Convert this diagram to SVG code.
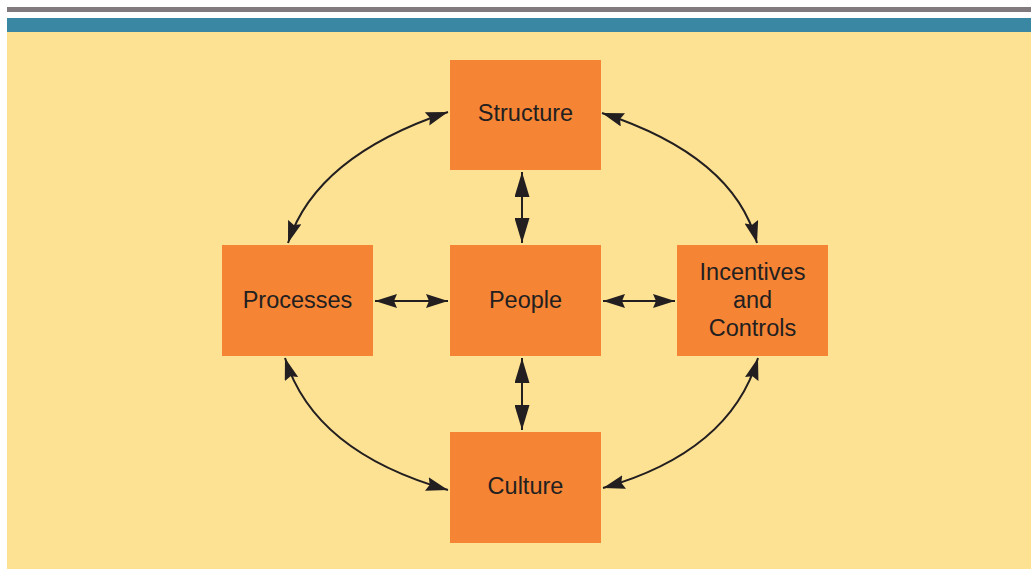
<svg xmlns="http://www.w3.org/2000/svg" width="1031" height="569" viewBox="0 0 1031 569">
<defs>
<style>
.box{fill:#F58434}
.lbl{font-family:"Liberation Sans",Arial,sans-serif;font-size:23.5px;fill:#231F20;text-anchor:middle}
.c{fill:none;stroke:#231F20;stroke-width:2}
</style>
<marker id="ah" viewBox="0 0 22 14" refX="22" refY="7" markerWidth="22" markerHeight="14" markerUnits="userSpaceOnUse" orient="auto-start-reverse">
<path d="M0,0 L22,7 L0,14 L3,7 Z" fill="#231F20"/>
</marker>
<marker id="av" viewBox="0 0 25 15" refX="25" refY="7.5" markerWidth="25" markerHeight="15" markerUnits="userSpaceOnUse" orient="auto-start-reverse">
<path d="M0,0 L25,7.5 L0,15 Z" fill="#231F20"/>
</marker>
</defs>
<rect x="0" y="0" width="1031" height="569" fill="#FFFFFF"/>
<rect x="7" y="7" width="1024" height="5" fill="#807A7E"/>
<rect x="7" y="18" width="1024" height="14" fill="#3A87A3"/>
<rect x="7" y="32" width="1024" height="537" fill="#FDE293"/>
<g id="structure"><rect class="box" x="450" y="60" width="151" height="110"/><text class="lbl" x="525.5" y="121">Structure</text></g>
<g id="people"><rect class="box" x="450" y="245" width="151" height="111"/><text class="lbl" x="525.5" y="308">People</text></g>
<g id="processes"><rect class="box" x="222" y="245" width="151" height="111"/><text class="lbl" x="297.5" y="308">Processes</text></g>
<g id="incentives"><rect class="box" x="677" y="245" width="151" height="111"/><text class="lbl" x="752.5" y="280">Incentives</text><text class="lbl" x="752.5" y="308">and</text><text class="lbl" x="752.5" y="336">Controls</text></g>
<g id="culture"><rect class="box" x="450" y="432" width="151" height="111"/><text class="lbl" x="525.5" y="494">Culture</text></g>
<g id="connectors">
<line class="c" x1="522" y1="172" x2="522" y2="243" marker-start="url(#av)" marker-end="url(#av)"/>
<line class="c" x1="522" y1="358" x2="522" y2="430" marker-start="url(#av)" marker-end="url(#av)"/>
<line class="c" x1="375" y1="301" x2="448" y2="301" marker-start="url(#ah)" marker-end="url(#ah)"/>
<line class="c" x1="603" y1="301" x2="675" y2="301" marker-start="url(#ah)" marker-end="url(#ah)"/>
<path class="c" d="M448,112 Q316,156 288,243" marker-start="url(#ah)" marker-end="url(#ah)"/>
<path class="c" d="M602,113 Q734,156 757,243" marker-start="url(#ah)" marker-end="url(#ah)"/>
<path class="c" d="M285,358 Q314,452 448,490" marker-start="url(#ah)" marker-end="url(#ah)"/>
<path class="c" d="M758,358 Q730,452 603,488" marker-start="url(#ah)" marker-end="url(#ah)"/>
</g>
</svg>
